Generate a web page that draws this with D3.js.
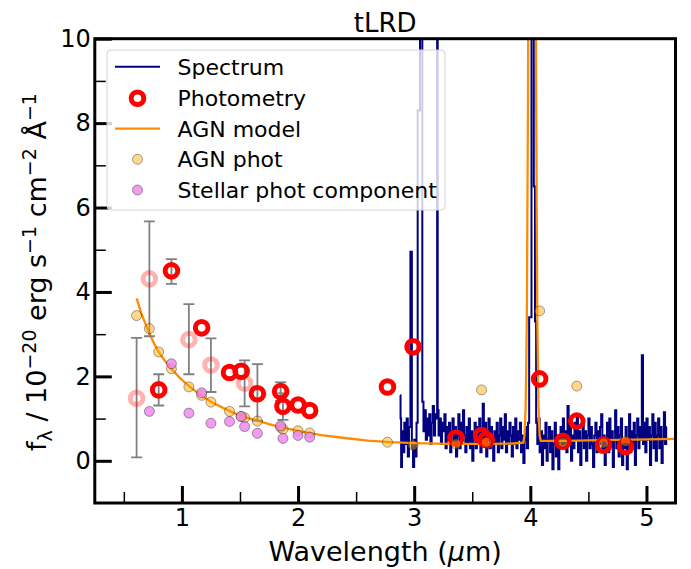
<!DOCTYPE html>
<html><head><meta charset="utf-8">
<script src="https://cdn.jsdelivr.net/npm/d3@7"></script>
<style>body{margin:0;background:#fff} svg{display:block} text{font-family:"DejaVu Sans",sans-serif;fill:#000}</style>
</head><body>
<svg id="c" width="691" height="569"></svg>
<script>
// ---------------- DATA ----------------
const title = "tLRD";
const xTicks = [1, 2, 3, 4, 5];
const xMinor = [0.5, 1.5, 2.5, 3.5, 4.5];
const yTicks = [0, 2, 4, 6, 8, 10];
const yMinor = [1, 3, 5, 7, 9];

// Spectrum [wavelength um, flux]
const spectrum = [
[2.88,1.55],[2.885,1.0],[2.89,-0.15],[2.90,0.7],[2.91,0.2],[2.92,0.9],[2.93,0.4],[2.94,1.0],[2.95,0.1],[2.96,0.8],
[2.975,4.95],[2.985,0.3],[2.995,-0.15],[3.005,0.5],[3.015,0.1],[3.025,0.9],[3.035,8.3],[3.045,8.3],[3.055,40],[3.065,40],
[3.075,1.4],[3.085,0.7],[3.095,1.2],[3.105,0.5],[3.115,1.0],[3.125,0.6],[3.135,1.1],[3.145,0.4],[3.155,0.9],[3.165,1.3],
[3.175,0.6],[3.185,1.1],[3.195,1.0],[3.20,30],[3.205,1.2],[3.215,0.6],[3.225,1.0],[3.235,0.4],[3.245,0.9],[3.255,0.7],
[3.265,1.1],[3.275,0.3],[3.285,0.8],[3.295,0.5],[3.305,0.9],[3.315,0.2],[3.325,0.7],[3.335,1.0],[3.345,0.4],[3.355,0.8],
[3.365,0.1],[3.375,0.6],[3.385,1.1],[3.395,0.3],[3.405,0.9],[3.415,0.5],[3.425,1.2],[3.435,0.6],[3.445,0.2],[3.455,0.8],
[3.465,0.4],[3.475,1.0],[3.485,0.3],[3.495,0.7],[3.505,0.0],[3.515,0.6],[3.525,0.9],[3.535,0.3],[3.545,0.8],[3.555,0.5],
[3.565,1.0],[3.575,0.2],[3.585,0.7],[3.595,1.35],[3.605,0.4],[3.615,0.9],[3.625,0.1],[3.635,0.6],[3.645,1.0],[3.655,0.3],
[3.665,0.8],[3.675,0.5],[3.685,0.0],[3.695,0.7],[3.705,0.4],[3.715,0.9],[3.725,0.2],[3.735,0.6],[3.745,1.0],[3.755,0.3],
[3.765,0.8],[3.775,0.5],[3.785,1.1],[3.795,0.2],[3.805,0.7],[3.815,0.4],[3.825,0.9],[3.835,0.6],[3.845,0.1],[3.855,0.8],
[3.865,0.4],[3.875,1.0],[3.885,0.3],[3.895,0.7],[3.905,0.5],[3.915,0.9],[3.925,0.2],[3.935,0.6],[3.945,-0.05],[3.955,0.5],
[3.965,0.8],[3.975,0.3],[3.985,0.9],[3.995,3.4],[4.005,3.4],[4.015,40],[4.025,40],[4.035,6.5],[4.045,3.3],[4.055,0.9],
[4.065,0.4],[4.075,1.0],[4.085,0.2],[4.095,0.7],[4.105,-0.1],[4.115,0.6],[4.125,0.3],[4.135,0.9],[4.145,0.0],[4.155,0.5],
[4.165,0.8],[4.175,0.2],[4.185,0.7],[4.195,-0.2],[4.205,0.4],[4.215,0.9],[4.225,0.1],[4.235,0.6],[4.245,-0.2],[4.255,0.5],
[4.265,0.8],[4.275,0.3],[4.285,1.0],[4.295,0.4],[4.305,0.7],[4.315,0.2],[4.325,1.3],[4.335,0.5],[4.345,0.9],[4.355,0.0],
[4.365,0.6],[4.375,0.3],[4.385,0.9],[4.395,0.5],[4.405,1.1],[4.415,0.2],[4.425,0.7],[4.435,-0.1],[4.445,0.5],[4.455,0.9],
[4.465,0.3],[4.475,0.7],[4.485,0.0],[4.495,0.6],[4.505,1.0],[4.515,0.3],[4.525,0.8],[4.535,0.4],[4.545,-0.15],[4.555,0.6],
[4.565,0.9],[4.575,0.2],[4.585,0.7],[4.595,0.4],[4.605,0.8],[4.615,1.1],[4.625,0.3],[4.635,0.6],[4.645,-0.1],[4.655,0.5],
[4.665,0.9],[4.675,0.2],[4.685,1.0],[4.695,0.4],[4.705,0.7],[4.715,-0.15],[4.725,0.5],[4.735,1.2],[4.745,0.3],[4.755,0.8],
[4.765,0.1],[4.775,0.6],[4.785,1.0],[4.795,-0.1],[4.805,0.5],[4.815,0.3],[4.825,0.8],[4.835,-0.2],[4.845,0.4],[4.855,1.1],
[4.865,0.2],[4.875,0.7],[4.885,0.4],[4.895,0.9],[4.905,-0.1],[4.915,0.6],[4.925,1.0],[4.935,0.3],[4.945,0.8],[4.955,0.5],
[4.965,2.5],[4.975,0.4],[4.985,0.9],[4.995,0.2],[5.005,1.0],[5.015,0.5],[5.025,0.8],[5.035,-0.1],[5.045,0.6],[5.055,1.1],
[5.065,0.3],[5.075,0.9],[5.085,0.0],[5.095,0.6],[5.105,1.0],[5.115,0.3],[5.125,0.8],[5.135,-0.05],[5.145,0.5],[5.155,1.15],
[5.165,0.4],[5.175,0.8]
];

// AGN model curve [wavelength, flux]
const agnModel = [
[0.61,3.85],[0.65,3.5],[0.70,3.15],[0.72,3.02],[0.76,2.78],[0.80,2.58],[0.85,2.38],[0.91,2.18],[0.98,1.97],[1.06,1.77],
[1.15,1.58],[1.25,1.40],[1.35,1.26],[1.45,1.13],[1.55,1.03],[1.65,0.95],[1.75,0.87],[1.85,0.80],[2.0,0.71],[2.2,0.61],
[2.4,0.54],[2.6,0.48],[2.8,0.44],[3.0,0.42],[3.3,0.40],[3.6,0.40],[3.85,0.41],[3.94,0.43],[3.95,0.6],[3.96,1.3],
[3.97,3.4],[3.98,8.6],[3.99,18],[4.00,29],[4.015,38],[4.03,29],[4.04,18],[4.05,8.6],[4.06,3.4],[4.07,1.3],
[4.08,0.6],[4.09,0.47],[4.3,0.47],[4.6,0.49],[4.9,0.50],[5.25,0.52]
];

// Photometry: wavelength, flux, faded flag (0/1), error low, error high (null = none)
const photWave  = [0.61,0.72,0.80,0.91,1.06,1.17,1.25,1.41,1.51,1.54,1.65,1.85,1.87,2.00,2.10,2.77,2.99,3.36,3.58,3.62,4.08,4.28,4.40,4.63,4.82];
const photFlux  = [1.48,4.31,1.68,4.50,2.87,3.15,2.27,2.09,2.12,1.84,1.59,1.64,1.29,1.32,1.19,1.75,2.70,0.54,0.60,0.50,1.94,0.46,0.94,0.37,0.34];
const photFaded = [1,1,0,0,1,0,1,0,0,1,0,0,0,0,0,0,0,0,0,0,0,0,0,0,0];
const photErrLo = [0.08,2.95,1.31,4.19,2.05,null,1.63,null,null,1.29,0.95,1.42,0.97,null,null,null,null,null,null,null,null,null,null,null,null];
const photErrHi = [2.91,5.67,2.05,4.78,3.71,null,2.90,null,null,2.38,2.29,1.86,1.60,null,null,null,null,null,null,null,null,null,null,null,null];

// AGN phot
const agnPhotWave = [0.61,0.72,0.80,0.91,1.06,1.17,1.25,1.41,1.51,1.54,1.65,1.85,1.87,2.00,2.10,2.77,2.99,3.36,3.58,3.62,4.08,4.28,4.40,4.63,4.82];
const agnPhotFlux = [3.44,3.13,2.58,2.18,1.75,1.55,1.39,1.17,1.05,1.02,0.94,0.79,0.75,0.71,0.66,0.44,0.37,0.40,1.68,0.44,3.55,0.44,1.77,0.42,0.46];

// Stellar phot component
const starPhotWave = [0.72,0.91,1.06,1.17,1.25,1.41,1.51,1.54,1.65,1.85,1.87,2.00,2.10];
const starPhotFlux = [1.17,2.30,1.13,1.61,0.89,0.93,1.05,0.81,0.65,0.83,0.53,0.60,0.56];

const legendLabels = ["Spectrum", "Photometry", "AGN model", "AGN phot", "Stellar phot component"];

// ---------------- CHART ----------------
const svg = d3.select("#c");
const L = 94.8, R = 675.5, T = 38.7, B = 503;
const x = d3.scaleLinear().domain([0.25, 5.25]).range([L, R]);
const y = d3.scaleLinear().domain([-1, 10]).range([B, T]);

svg.append("defs").append("clipPath").attr("id","clip")
  .append("rect").attr("x",L).attr("y",T).attr("width",R-L).attr("height",B-T);

const plot = svg.append("g").attr("clip-path","url(#clip)");

// spectrum
plot.append("path").datum(spectrum)
  .attr("d", d3.line().x(d=>x(d[0])).y(d=>y(d[1])).curve(d3.curveStep))
  .attr("fill","none").attr("stroke","#000080").attr("stroke-width",2);

// AGN model
plot.append("path").datum(agnModel)
  .attr("d", d3.line().x(d=>x(d[0])).y(d=>y(d[1])))
  .attr("fill","none").attr("stroke","#ff8c00").attr("stroke-width",2.3);

// error bars
const eb = plot.append("g").attr("stroke","#808080").attr("stroke-width",1.8);
photWave.forEach((w,i)=>{
  if (photErrLo[i]==null) return;
  const cx = x(w);
  eb.append("line").attr("x1",cx).attr("x2",cx).attr("y1",y(photErrLo[i])).attr("y2",y(photErrHi[i]));
  [photErrLo[i],photErrHi[i]].forEach(v=>{
    eb.append("line").attr("x1",cx-5.5).attr("x2",cx+5.5).attr("y1",y(v)).attr("y2",y(v));
  });
});

// photometry rings
plot.append("g").selectAll("circle").data(photWave.map((w,i)=>i)).join("circle")
  .attr("cx",i=>x(photWave[i])).attr("cy",i=>y(photFlux[i])).attr("r",6.3)
  .attr("fill","none").attr("stroke","#ff0000").attr("stroke-width",5)
  .attr("stroke-opacity",i=>photFaded[i]?0.3:1);

// AGN phot
plot.append("g").selectAll("circle").data(agnPhotWave.map((w,i)=>i)).join("circle")
  .attr("cx",i=>x(agnPhotWave[i])).attr("cy",i=>y(agnPhotFlux[i])).attr("r",5)
  .attr("fill","rgba(255,165,0,0.45)").attr("stroke","rgba(0,0,0,0.35)").attr("stroke-width",1);

// stellar phot
plot.append("g").selectAll("circle").data(starPhotWave.map((w,i)=>i)).join("circle")
  .attr("cx",i=>x(starPhotWave[i])).attr("cy",i=>y(starPhotFlux[i])).attr("r",5)
  .attr("fill","rgba(238,130,238,0.8)").attr("stroke","rgba(0,0,0,0.35)").attr("stroke-width",1);

// axes
function styleAxis(g, w){ g.select(".domain").remove(); g.selectAll(".tick line").attr("stroke","#000").attr("stroke-width",w); }
svg.append("g").attr("transform",`translate(0,${B})`)
  .call(d3.axisBottom(x).tickValues(xMinor).tickSize(-11).tickFormat(""))
  .call(g=>styleAxis(g,1.5));
svg.append("g").attr("transform",`translate(${L},0)`)
  .call(d3.axisLeft(y).tickValues(yMinor).tickSize(-11).tickFormat(""))
  .call(g=>styleAxis(g,1.5));
const xa = svg.append("g").attr("transform",`translate(0,${B})`)
  .call(d3.axisBottom(x).tickValues(xTicks).tickSize(-17).tickPadding(6).tickFormat(d3.format("d")))
  .call(g=>styleAxis(g,3));
xa.selectAll("text").attr("font-size",24).attr("font-family","DejaVu Sans").attr("fill","#000");
const ya = svg.append("g").attr("transform",`translate(${L},0)`)
  .call(d3.axisLeft(y).tickValues(yTicks).tickSize(-17).tickPadding(4).tickFormat(d3.format("d")))
  .call(g=>styleAxis(g,3));
ya.selectAll("text").attr("font-size",24).attr("font-family","DejaVu Sans").attr("fill","#000");

// frame
svg.append("rect").attr("x",L).attr("y",T).attr("width",R-L).attr("height",B-T)
  .attr("fill","none").attr("stroke","#000").attr("stroke-width",3);

// legend
const lg = svg.append("g");
lg.append("rect").attr("x",107).attr("y",50).attr("width",338).attr("height",160).attr("rx",4)
  .attr("fill","rgba(255,255,255,0.8)").attr("stroke","#d3d3d3").attr("stroke-width",1);
const rows = [66.7, 98.3, 128.7, 159.3, 190];
lg.append("line").attr("x1",115).attr("x2",160).attr("y1",rows[0]).attr("y2",rows[0]).attr("stroke","#000080").attr("stroke-width",2);
lg.append("circle").attr("cx",137.5).attr("cy",rows[1]).attr("r",6.3).attr("fill","none").attr("stroke","#ff0000").attr("stroke-width",5);
lg.append("line").attr("x1",115).attr("x2",160).attr("y1",rows[2]).attr("y2",rows[2]).attr("stroke","#ff8c00").attr("stroke-width",2.3);
lg.append("circle").attr("cx",137.5).attr("cy",rows[3]).attr("r",5).attr("fill","rgba(255,165,0,0.45)").attr("stroke","rgba(0,0,0,0.35)");
lg.append("circle").attr("cx",137.5).attr("cy",rows[4]).attr("r",5).attr("fill","rgba(238,130,238,0.8)").attr("stroke","rgba(0,0,0,0.35)");
legendLabels.forEach((t,i)=>{
  lg.append("text").attr("x",177.5).attr("y",rows[i]+8).attr("font-size",22).text(t);
});

// title
svg.append("text").attr("x",(L+R)/2).attr("y",32).attr("text-anchor","middle").attr("font-size",26).text(title);

// x label (italic mu as in mathtext)
const xl = svg.append("text").attr("x",(L+R)/2).attr("y",561).attr("text-anchor","middle").attr("font-size",27);
xl.append("tspan").text("Wavelength (");
xl.append("tspan").attr("font-style","italic").text("\u03bc");
xl.append("tspan").text("m)");

// y label with super/subscripts
const yl = svg.append("text").attr("transform","translate(46,272) rotate(-90)")
  .attr("text-anchor","middle").attr("font-size",27);
const parts = [
  ["f",0,27],["\u03bb",6,19],[" / 10",-6,27],["\u221220",-10,19],[" erg s",10,27],["\u22121",-10,19],
  [" cm",10,27],["\u22122",-10,19],[" \u00c5",10,27],["\u22121",-10,19]
];
parts.forEach(p=>{ yl.append("tspan").attr("dy",p[1]).attr("font-size",p[2]).text(p[0]); });
</script>
</body></html>
